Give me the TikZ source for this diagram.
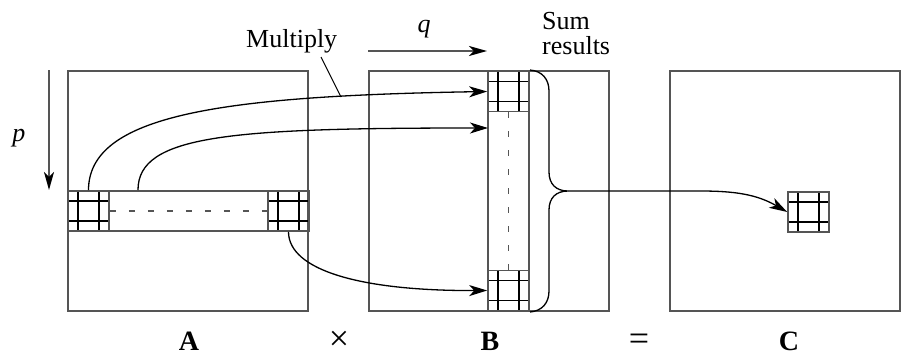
\documentclass[tikz,border=0pt]{standalone}
\usepackage{fontspec}
\setmainfont{Liberation Serif}
\usetikzlibrary{arrows.meta,calc}
\definecolor{boxgray}{HTML}{555555}
\begin{document}
\begin{tikzpicture}[x=1pt,y=-1pt,
  txt/.style={font=\fontsize{26}{25}\selectfont, inner sep=0pt},
  bigtxt/.style={font=\fontsize{28}{28}\selectfont, inner sep=0pt},
  symtxt/.style={font=\fontsize{36}{36}\selectfont, inner sep=0pt},
  matbox/.style={draw=boxgray, line width=2pt, inner sep=0pt, minimum width=240pt, minimum height=240pt},
  stripbox/.style={draw=boxgray, line width=2pt, inner sep=0pt},
  gblock/.style={draw=boxgray, line width=1.6pt, inner sep=0pt, minimum width=41pt, minimum height=40pt,
    path picture={
      \draw[black, line width=1.3pt] ([xshift=10pt]path picture bounding box.north west) -- ([xshift=10pt]path picture bounding box.south west);
      \draw[black, line width=1.3pt] ([xshift=-10pt]path picture bounding box.north east) -- ([xshift=-10pt]path picture bounding box.south east);
      \draw[black, line width=1.3pt] ([yshift=-10pt]path picture bounding box.north west) -- ([yshift=-10pt]path picture bounding box.north east);
      \draw[black, line width=1.3pt] ([yshift=10pt]path picture bounding box.south west) -- ([yshift=10pt]path picture bounding box.south east);
    }},
  dashline/.style={draw=boxgray, line width=1.8pt, dash pattern=on 6pt off 13pt},
  curvearrow/.style={draw=black, line width=1.3pt, -{Stealth[length=18pt,width=11pt,inset=5pt]}},
  axisarrow/.style={draw=boxgray, line width=2pt, -{Stealth[length=18pt,width=10pt,inset=5pt,color=black]}},
  bracepath/.style={draw=black, line width=1.3pt}
]
\useasboundingbox (0,0) rectangle (902,356);

% matrices
\node[matbox] (A) at (188,191) {};
\node[matbox] (B) at (489,191) {};
\node[matbox, minimum width=230pt] (C) at (785,191) {};

% strips
\node[stripbox, minimum width=240pt, minimum height=40pt] (As) at (188,211) {};
\node[stripbox, minimum width=41pt, minimum height=240pt] (Bs) at (508.5,191) {};

% blocks
\node[gblock] (Al) at (88.5,211) {};
\node[gblock] (Ar) at (288.5,211) {};
\node[gblock] (Bt) at (508.5,91.5) {};
\node[gblock] (Bb) at (508.5,290.5) {};
\node[gblock] (Cb) at (808.5,212) {};

% dashed lines
\draw[dashline] (Al.east) -- (Ar.west);
\draw[dashline] (Bt.south) -- (Bb.north);

% axis arrows and labels
\coordinate (ptop) at (49,70);
\coordinate (pbot) at (49,190);
\draw[axisarrow] (ptop) -- (pbot);
\node[txt, anchor=base] (p) at (19,141) {\itshape p};
\coordinate (qleft) at (368,51);
\coordinate (qright) at (487,51);
\draw[axisarrow] (qleft) -- (qright);
\node[txt, anchor=base] (q) at (424,32) {\itshape q};

% multiply curves
\coordinate (b2) at (488,128);
\coordinate (a2) at ([xshift=-50pt]As.north);
\draw[curvearrow] (Al.north) .. controls (88.5,115) and (220,96) .. (Bt.west);
\draw[curvearrow] (a2) .. controls (138,135) and (230,128) .. (b2);
\draw[curvearrow] (Ar.south) .. controls (288.5,270) and (360,291) .. (Bb.west);

% Multiply label with pointer
\node[txt, anchor=base west] (mul) at (246,47) {Multiply};
\coordinate (mulfrom) at (321,57);
\coordinate (multo) at (341,97);
\draw[black, line width=1.1pt] (mulfrom) -- (multo);

% brace
\coordinate (cusp) at (568,191);
\draw[bracepath] (Bs.north east) .. controls (542,71) and (549,79) .. (549,91)
  -- (549,172) .. controls (549,184) and (556,191) .. (cusp)
  .. controls (556,191) and (549,198) .. (549,210)
  -- (549,291) .. controls (549,303) and (542,311) .. (Bs.south east);
\node[txt, anchor=north west, align=left] (sum) at (542,12) {Sum\\results};

% sum arrow
\coordinate (bend) at (700,191);
\draw[curvearrow] (cusp) -- (bend) to[out=0,in=150] (Cb.west);

% bottom labels
\node[bigtxt, anchor=base] (la) at (189,350) {\bfseries A};
\node[symtxt, anchor=base] (times) at (339,350) {×};
\node[bigtxt, anchor=base] (lb) at (490,350) {\bfseries B};
\node[symtxt, anchor=base] (eq) at (639,350) {=};
\node[bigtxt, anchor=base] (lc) at (789,350) {\bfseries C};
\end{tikzpicture}
\end{document}
